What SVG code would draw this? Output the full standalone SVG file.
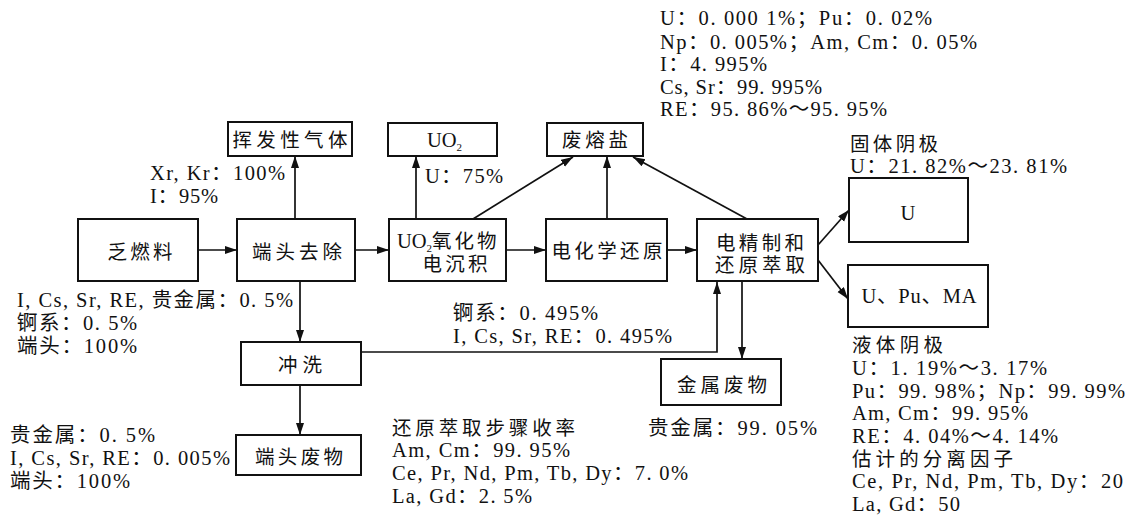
<svg xmlns="http://www.w3.org/2000/svg" width="1130" height="515" viewBox="0 0 1130 515">
<style>
text{font-family:"Liberation Serif","Noto Sans CJK SC",serif;font-size:20.5px;fill:#111}
.cj{font-size:19.5px}
.box{fill:#fff;stroke:#111;stroke-width:2}
.c{fill:none;stroke:#111;stroke-width:1.7}
.m{text-anchor:middle}
</style>
<defs>
<marker id="ah" markerUnits="userSpaceOnUse" markerWidth="13" markerHeight="9" refX="12" refY="4" orient="auto">
<path d="M0,0 L12,4 L0,8 Z" fill="#111"/>
</marker>
</defs>
<rect width="1130" height="515" fill="#fff"/>
<g id="connectors">
<line class="c" x1="198" y1="250" x2="237" y2="250" marker-end="url(#ah)"/>
<line class="c" x1="355" y1="250" x2="389" y2="250" marker-end="url(#ah)"/>
<line class="c" x1="506" y1="250" x2="546" y2="250" marker-end="url(#ah)"/>
<line class="c" x1="667" y1="250" x2="697" y2="250" marker-end="url(#ah)"/>
<line class="c" x1="295" y1="219" x2="295" y2="156" marker-end="url(#ah)"/>
<line class="c" x1="300" y1="282" x2="300" y2="342" marker-end="url(#ah)"/>
<line class="c" x1="300" y1="385" x2="300" y2="435" marker-end="url(#ah)"/>
<polyline class="c" points="361,352 717,352 717,282" marker-end="url(#ah)"/>
<line class="c" x1="742" y1="282" x2="742" y2="359" marker-end="url(#ah)"/>
<line class="c" x1="416" y1="219" x2="416" y2="156" marker-end="url(#ah)"/>
<line class="c" x1="473" y1="219" x2="573" y2="157" marker-end="url(#ah)"/>
<line class="c" x1="607" y1="219" x2="607" y2="156" marker-end="url(#ah)"/>
<line class="c" x1="747" y1="219" x2="633" y2="157" marker-end="url(#ah)"/>
<line class="c" x1="818" y1="245" x2="849" y2="210" marker-end="url(#ah)"/>
<line class="c" x1="818" y1="260" x2="848" y2="299" marker-end="url(#ah)"/>
</g>
<g id="n-spent-fuel"><rect class="box" x="78" y="219" width="120" height="62"/><text class="m cj" x="140" y="259" textLength="65">乏燃料</text></g>
<g id="n-head-end"><rect class="box" x="237" y="219" width="118" height="62"/><text class="m cj" x="297" y="259" textLength="90">端头去除</text></g>
<g id="n-volatile"><rect class="box" x="228" y="122" width="124" height="34"/><text class="m cj" x="290" y="147" textLength="115">挥发性气体</text></g>
<g id="n-uo2"><rect class="box" x="388" y="123" width="109" height="33"/><text x="427" y="147">UO<tspan font-size="11" dy="4">2</tspan></text></g>
<g id="n-salt"><rect class="box" x="547" y="123" width="96" height="33"/><text class="m cj" x="595" y="147" textLength="66">废熔盐</text></g>
<g id="n-electrodep"><rect class="box" x="389" y="219" width="117" height="62"/><text x="397" y="248">UO<tspan font-size="11" dy="4">2</tspan><tspan dy="-4" font-size="19.5" letter-spacing="3">氧化物</tspan></text><text class="m cj" x="455" y="271" textLength="65">电沉积</text></g>
<g id="n-reduction"><rect class="box" x="546" y="219" width="121" height="62"/><text class="m cj" x="607" y="258" textLength="111">电化学还原</text></g>
<g id="n-refining"><rect class="box" x="697" y="219" width="121" height="62"/><text class="m cj" x="760" y="250" textLength="88">电精制和</text><text class="m cj" x="760" y="272" textLength="90">还原萃取</text></g>
<g id="n-u"><rect class="box" x="849" y="178" width="119" height="64"/><text class="m" x="908" y="220">U</text></g>
<g id="n-upuma"><rect class="box" x="848" y="265" width="140" height="62"/><text class="m" x="919" y="303" textLength="115">U、Pu、MA</text></g>
<g id="n-wash"><rect class="box" x="241" y="342" width="120" height="43"/><text class="m cj" x="300" y="372" textLength="44">冲洗</text></g>
<g id="n-head-waste"><rect class="box" x="236" y="435" width="125" height="40"/><text class="m cj" x="299" y="464" textLength="88">端头废物</text></g>
<g id="n-metal-waste"><rect class="box" x="661" y="359" width="120" height="46"/><text class="m cj" x="722" y="392" textLength="90">金属废物</text></g>
<g id="labels">
<text x="660" y="25" textLength="272">U：0. 000 1%；Pu：0. 02%</text>
<text x="660" y="49" textLength="317">Np：0. 005%；Am, Cm：0. 05%</text>
<text x="660" y="71" textLength="107">I：4. 995%</text>
<text x="660" y="94" textLength="162">Cs, Sr：99. 995%</text>
<text x="660" y="116" textLength="227">RE：95. 86%～95. 95%</text>
<text x="150" y="180" textLength="135">Xr, Kr：100%</text>
<text x="150" y="203" textLength="68">I：95%</text>
<text x="425" y="183" textLength="78">U：75%</text>
<text x="17" y="307" textLength="276">I, Cs, Sr, RE, 贵金属：0. 5%</text>
<text x="17" y="330" textLength="120">锕系：0. 5%</text>
<text x="17" y="353" textLength="120">端头：100%</text>
<text x="10" y="442" textLength="145">贵金属：0. 5%</text>
<text x="10" y="465" textLength="220">I, Cs, Sr, RE：0. 005%</text>
<text x="10" y="488" textLength="120">端头：100%</text>
<text x="453" y="320" textLength="145">锕系：0. 495%</text>
<text x="453" y="343" textLength="219">I, Cs, Sr, RE：0. 495%</text>
<text x="648" y="435" textLength="169">贵金属：99. 05%</text>
<text class="cj" x="392" y="435" textLength="183">还原萃取步骤收率</text>
<text x="392" y="457" textLength="178">Am, Cm：99. 95%</text>
<text x="392" y="480" textLength="296">Ce, Pr, Nd, Pm, Tb, Dy：7. 0%</text>
<text x="392" y="503" textLength="140">La, Gd：2. 5%</text>
<text class="cj" x="850" y="151" textLength="88">固体阴极</text>
<text x="850" y="173" textLength="217">U：21. 82%～23. 81%</text>
<text class="cj" x="852" y="352" textLength="91">液体阴极</text>
<text x="852" y="375" textLength="195">U：1. 19%～3. 17%</text>
<text x="852" y="398" textLength="273">Pu：99. 98%；Np：99. 99%</text>
<text x="852" y="420" textLength="176">Am, Cm：99. 95%</text>
<text x="852" y="443" textLength="206">RE：4. 04%～4. 14%</text>
<text class="cj" x="852" y="466" textLength="161">估计的分离因子</text>
<text x="852" y="488" textLength="271">Ce, Pr, Nd, Pm, Tb, Dy：20</text>
<text x="852" y="511" textLength="108">La, Gd：50</text>
</g>
</svg>
